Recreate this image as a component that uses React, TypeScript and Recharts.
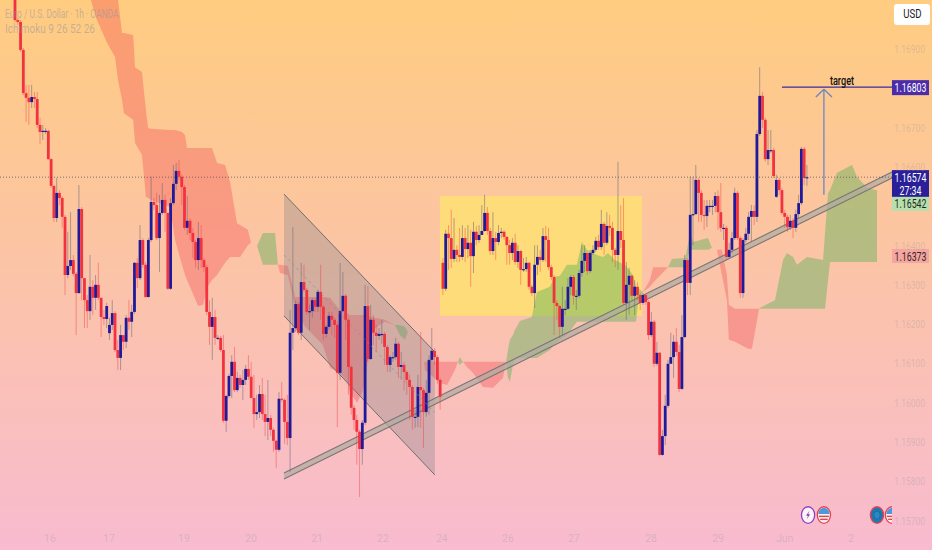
import {
  Area,
  Bar,
  ComposedChart,
  ReferenceArea,
  ReferenceDot,
  ReferenceLine,
  XAxis,
  YAxis,
} from 'recharts'

// all prices are kept as pipettes above 1.00000, so 16803 reads 1.16803
const closes = [
  16974, 16969, 16898, 16788, 16776, 16765, 16778, 16773, 16707, 16689, 16692, 16692, 16620, 16552, 16470, 16534, 16521, 16473, 16325, 16348,
  16363, 16328, 16279, 16493, 16317, 16261, 16233, 16295, 16267, 16300, 16267, 16218, 16213, 16246, 16198, 16228, 16134, 16114, 16172, 16155,
  16216, 16206, 16231, 16356, 16317, 16414, 16351, 16269, 16414, 16511, 16503, 16419, 16483, 16516, 16483, 16290, 16508, 16557, 16590, 16575,
  16549, 16445, 16463, 16432, 16409, 16363, 16419, 16363, 16345, 16231, 16193, 16218, 16165, 16165, 16134, 15954, 16017, 16068, 16104, 16032,
  16063, 16045, 16058, 16086, 16066, 16012, 15971, 15976, 16022, 15971, 15951, 15961, 15931, 15903, 15880, 16010, 16007, 15951, 15910, 16178,
  16190, 16251, 16178, 16307, 16287, 16231, 16233, 16261, 16244, 16282, 16244, 16175, 16193, 16221, 16211, 16198, 16076, 16233, 16272, 16211,
  16091, 15987, 15956, 15926, 15882, 15949, 16246, 16111, 16211, 16178, 16170, 16175, 16175, 16142, 16096, 16116, 16116, 16150, 16091, 16096,
  16078, 16058, 16040, 15964, 15964, 16040, 16032, 15976, 16025, 16109, 16132, 16116, 16058, 16015, 16290, 16430, 16419, 16366, 16389, 16376,
  16371, 16419, 16391, 16407, 16373, 16435, 16414, 16427, 16437, 16483, 16437, 16386, 16419, 16409, 16432, 16435, 16422, 16401, 16381, 16407,
  16358, 16386, 16338, 16340, 16356, 16295, 16279, 16351, 16371, 16363, 16424, 16414, 16345, 16320, 16254, 16246, 16193, 16239, 16239, 16295,
  16320, 16272, 16272, 16330, 16361, 16381, 16335, 16381, 16389, 16412, 16396, 16455, 16407, 16450, 16445, 16389, 16376, 16437, 16414, 16254,
  16300, 16323, 16272, 16295, 16274, 16254, 16274, 16256, 16172, 16206, 16099, 16127, 15867, 15915, 15992, 16099, 16116, 16155, 16129, 16035,
  16167, 16363, 16305, 16478, 16480, 16567, 16534, 16478, 16475, 16501, 16501, 16501, 16526, 16485, 16445, 16445, 16371, 16389, 16419, 16534,
  16419, 16279, 16414, 16430, 16473, 16488, 16473, 16684, 16781, 16720, 16620, 16643, 16643, 16577, 16567, 16541, 16483, 16473, 16447, 16463,
  16445, 16480, 16508, 16646, 16572, 16574,
]
const highs = [
  17025, 16979, 16974, 16903, 16809, 16809, 16809, 16791, 16791, 16725, 16707, 16699, 16694, 16623, 16552, 16572, 16541, 16526, 16478, 16435,
  16485, 16376, 16333, 16554, 16498, 16317, 16274, 16376, 16312, 16325, 16356, 16267, 16236, 16254, 16216, 16261, 16233, 16160, 16198, 16172,
  16223, 16261, 16249, 16358, 16368, 16452, 16419, 16358, 16419, 16575, 16521, 16534, 16529, 16559, 16529, 16483, 16521, 16605, 16610, 16618,
  16580, 16554, 16526, 16470, 16445, 16414, 16460, 16452, 16368, 16351, 16261, 16267, 16236, 16172, 16170, 16172, 16020, 16073, 16121, 16142,
  16078, 16071, 16083, 16096, 16121, 16104, 16071, 16020, 16045, 16063, 16020, 16058, 15969, 15936, 15905, 16027, 16053, 16012, 16020, 16236,
  16447, 16261, 16256, 16356, 16351, 16292, 16249, 16267, 16267, 16287, 16351, 16249, 16198, 16231, 16231, 16216, 16206, 16356, 16333, 16277,
  16216, 16096, 15994, 15969, 15931, 15956, 16300, 16297, 16249, 16223, 16198, 16190, 16211, 16180, 16147, 16121, 16129, 16165, 16155, 16129,
  16104, 16083, 16071, 16045, 15982, 16071, 16180, 16038, 16058, 16121, 16190, 16139, 16121, 16063, 16368, 16440, 16452, 16491, 16470, 16401,
  16445, 16452, 16445, 16452, 16440, 16460, 16450, 16452, 16503, 16529, 16498, 16445, 16485, 16435, 16452, 16445, 16440, 16424, 16414, 16419,
  16430, 16401, 16389, 16368, 16371, 16358, 16300, 16401, 16401, 16389, 16445, 16450, 16445, 16351, 16325, 16261, 16249, 16295, 16261, 16317,
  16325, 16325, 16287, 16338, 16401, 16401, 16381, 16389, 16401, 16422, 16427, 16491, 16460, 16485, 16478, 16460, 16394, 16613, 16503, 16521,
  16358, 16343, 16325, 16312, 16307, 16279, 16279, 16277, 16261, 16231, 16211, 16155, 16129, 15931, 16020, 16109, 16178, 16172, 16190, 16147,
  16223, 16376, 16368, 16575, 16575, 16605, 16572, 16541, 16516, 16516, 16516, 16516, 16536, 16541, 16559, 16455, 16450, 16407, 16435, 16547,
  16539, 16424, 16419, 16445, 16485, 16503, 16503, 16694, 16854, 16791, 16725, 16694, 16694, 16648, 16580, 16572, 16547, 16491, 16478, 16478,
  16470, 16491, 16529, 16651, 16651, 16605,
]
const lows = [
  16969, 16961, 16893, 16783, 16715, 16707, 16750, 16750, 16699, 16659, 16669, 16684, 16618, 16547, 16460, 16460, 16503, 16445, 16274, 16317,
  16338, 16323, 16172, 16277, 16261, 16190, 16190, 16211, 16223, 16236, 16261, 16167, 16198, 16190, 16160, 16185, 16129, 16083, 16083, 16134,
  16139, 16185, 16167, 16226, 16292, 16312, 16343, 16267, 16267, 16409, 16491, 16414, 16333, 16478, 16435, 16287, 16287, 16503, 16541, 16567,
  16503, 16440, 16427, 16414, 16368, 16343, 16338, 16343, 16333, 16223, 16147, 16109, 16147, 16160, 16129, 15949, 15926, 16012, 16012, 16027,
  16027, 16038, 16007, 16045, 16058, 16012, 15936, 15956, 15961, 15956, 15915, 15905, 15915, 15875, 15834, 15875, 16002, 15895, 15892, 15824,
  16134, 16180, 16172, 16160, 16282, 16223, 16185, 16216, 16231, 16231, 16211, 16160, 16165, 16185, 16172, 16165, 15938, 16058, 16231, 16160,
  16020, 15969, 15931, 15842, 15760, 15842, 15943, 16104, 16109, 16147, 16129, 16160, 16150, 16096, 16078, 16078, 16104, 16109, 16063, 16058,
  16032, 16020, 15956, 15931, 15936, 15938, 15936, 15885, 15964, 15969, 16104, 16096, 16048, 15982, 16274, 16284, 16338, 16343, 16358, 16358,
  16358, 16363, 16358, 16368, 16295, 16330, 16401, 16407, 16427, 16435, 16427, 16376, 16376, 16363, 16401, 16419, 16414, 16351, 16351, 16363,
  16351, 16343, 16300, 16333, 16333, 16287, 16272, 16241, 16325, 16333, 16358, 16358, 16338, 16312, 16172, 16211, 16165, 16172, 16223, 16236,
  16274, 16249, 16236, 16267, 16320, 16333, 16325, 16330, 16376, 16384, 16389, 16389, 16376, 16401, 16424, 16358, 16345, 16338, 16394, 16249,
  16211, 16223, 16261, 16223, 16261, 16236, 16249, 16249, 16160, 16167, 16091, 16094, 15865, 15865, 15892, 15987, 16104, 16063, 16119, 16027,
  16032, 16165, 16274, 16274, 16401, 16478, 16460, 16460, 16440, 16447, 16485, 16478, 16485, 16440, 16435, 16414, 16363, 16368, 16381, 16414,
  16414, 16267, 16267, 16407, 16414, 16409, 16452, 16460, 16679, 16699, 16613, 16605, 16636, 16572, 16521, 16529, 16478, 16445, 16435, 16440,
  16419, 16435, 16470, 16503, 16554, 16552,
]
// bars that do not open on the previous close
const gapOpens: Record<number, number> = { 0: 17025, 34: 16177, 154: 16356, 274: 16524 }

// ichimoku cloud, null breaks the band between two twists
const redCloudAt = [
  27.3, 29.5, 33.1, 36, 37.1, 38.5, 39.2, 42.5, 43.2, 45.7, 47.1, 47.9, 48.9, 55.8, 57.6, 60.1, 61.2, 61.9, 65.9, 67.7, 69.1, 70.9, 72.7, 75.6, 77.4, 79.9, 81, 83.8, 84.9, 85,
  94.6, 95.4, 98.2, 100.8, 104.4, 110.8, 113.4, 116.9, 119.5, 120.5, 123.1, 124.9, 125.9, 128.5, 133.1, 136.7, 137,
  147.2, 147.5, 152.9, 155.5, 158.3, 159.4, 160,
  161.2, 162.6, 164.8, 168.4, 172, 175.6, 176.7, 177,
  226, 228.5, 229.6, 235, 236,
  252.6, 254.4, 256.2, 256.9, 259.1, 263.8, 265.2, 267.7,
]
const redCloudTop = [
  17025, 17025, 17025, 17025, 17025, 16941, 16941, 16936, 16854, 16842, 16745, 16699, 16697, 16694, 16694, 16689, 16681, 16648, 16648, 16648, 16648, 16648, 16610, 16605, 16562, 16457, 16452, 16440, 16407, null,
  16351, 16351, 16348, 16269, 16269, 16269, 16267, 16236, 16228, 16223, 16223, 16223, 16223, 16218, 16211, 16198, null,
  16104, 16104, 16104, 16104, 16104, 16104, null,
  16104, 16104, 16104, 16104, 16104, 16104, 16104, null,
  16282, 16312, 16345, 16345, null,
  16389, 16389, 16325, 16249, 16239, 16239, 16239, 16239,
]
const redCloudBottom = [
  17025, 16974, 16916, 16880, 16821, 16771, 16737, 16720, 16661, 16631, 16524, 16521, 16516, 16498, 16414, 16351, 16325, 16312, 16246, 16249, 16292, 16312, 16325, 16356, 16371, 16371, 16371, 16401, 16407, null,
  16351, 16330, 16325, 16244, 16193, 16147, 16088, 16076, 16053, 16027, 16000, 16025, 16050, 16185, 16206, 16198, null,
  16104, 16083, 16050, 16045, 16083, 16104, null,
  16104, 16091, 16076, 16040, 16038, 16063, 16104, null,
  16282, 16295, 16305, 16345, null,
  16389, 16325, 16261, 16160, 16155, 16137, 16137, 16236,
]
const greenCloudAt = [
  87.1, 89.2, 93.6, 94.6, 95,
  136.7, 138.5, 140.3, 141.4, 142,
  159.4, 160.1, 161.2, 161.5,
  176.7, 177.4, 178.1, 179.2, 179.9, 181.7, 186, 187.8, 192.5, 194, 196.1, 198.6, 202.2, 204, 205.8, 209.4, 211.6, 213.4, 215.9, 219.5, 222.4, 223.5, 224.2, 226, 227,
  235, 236.4, 241.1, 241.8, 242.9, 244, 249.4, 250.8, 252.6, 253,
  267.7, 268, 273.5, 276.4, 277.8, 280, 281.4, 285, 290.8, 291.5, 292.6, 293.3, 295.8, 301.2, 303, 306.6, 310.2,
]
const greenCloudTop = [
  16399, 16432, 16432, 16351, null,
  16198, 16198, 16193, 16180, null,
  16104, 16116, 16104, null,
  16104, 16134, 16160, 16172, 16185, 16208, 16218, 16282, 16295, 16320, 16323, 16351, 16351, 16409, 16389, 16376, 16371, 16381, 16363, 16351, 16325, 16295, 16292, 16282, null,
  16345, 16366, 16368, 16389, 16432, 16409, 16419, 16394, 16389, null,
  16239, 16241, 16261, 16363, 16381, 16371, 16351, 16371, 16363, 16432, 16534, 16541, 16585, 16605, 16575, 16547, 16541,
]
const greenCloudBottom = [
  16399, 16351, 16351, 16351, null,
  16198, 16172, 16160, 16180, null,
  16104, 16096, 16104, null,
  16104, 16063, 16053, 16096, 16109, 16114, 16114, 16114, 16134, 16147, 16160, 16172, 16206, 16206, 16206, 16206, 16206, 16206, 16206, 16206, 16206, 16206, 16249, 16282, null,
  16345, 16345, 16345, 16363, 16389, 16389, 16389, 16394, 16389, null,
  16239, 16239, 16239, 16239, 16239, 16239, 16239, 16239, 16239, 16239, 16312, 16358, 16358, 16358, 16358, 16358, 16358,
]

// drawn tools, each one an anchored pair of bars
const wedgeAt = [96.8, 151.1]
const wedgeTop = [16531, 16129]
const wedgeBottom = [16221, 15816]
const wedgeMid = [16376, 15974]
const trendAt = [96.8, 315.6]
const trendTop = [15821, 16587]
const trendBottom = [15806, 16572]
const boxAt = [152.9, 225.6]
const boxPrices = [16526, 16221]
const targetAt = [276, 315.6]
const targetPrice = 16803
const arrowAt = [288.2, 291.1, 294]
const arrowPrices = [16778, 16798, 16529]
const lastPrice = 16574

const priceTicks = [15700, 15800, 15900, 16000, 16100, 16200, 16300, 16400, 16600, 16700, 16900]
const timeTickAt = [12.6, 33.8, 60.8, 84.9, 108.7, 132.4, 153.6, 177.4, 201.1, 228.9, 253, 277, 300.8]
const timeLabels = ['16', '17', '19', '20', '21', '22', '24', '26', '27', '28', '29', 'Jun', '2']

const price = (pt: number) => 1 + pt / 100000

const candles = closes.map((close, i) => ({
  i,
  open: price(gapOpens[i] ?? closes[i - 1]),
  close: price(close),
  high: price(highs[i]),
  low: price(lows[i]),
  range: [price(lows[i]), price(highs[i])],
}))

const bandRows = (at: number[], top: (number | null)[], bottom: (number | null)[]) =>
  at.map((i, k) => ({
    i,
    band: top[k] === null || bottom[k] === null ? null : [price(bottom[k] as number), price(top[k] as number)],
  }))

const redRows = bandRows(redCloudAt, redCloudTop, redCloudBottom)
const greenRows = bandRows(greenCloudAt, greenCloudTop, greenCloudBottom)
const wedgeRows = bandRows(wedgeAt, wedgeTop, wedgeBottom)
const trendRows = bandRows(trendAt, trendTop, trendBottom)

const FONT = 'Roboto, sans-serif'
const TICK = 'rgba(150,150,160,0.32)'
const UP = '#1f1a9b'
const DOWN = '#f2323f'

function Candle(props: any) {
  const { x, y, width, height, payload } = props
  if (!payload) return null
  const top = Math.min(y, y + height)
  const h = Math.abs(height)
  const perPrice = h / (payload.high - payload.low || 1)
  const bodyTop = top + (payload.high - Math.max(payload.open, payload.close)) * perPrice
  const bodyH = Math.max(Math.abs(payload.open - payload.close) * perPrice, 1.2)
  const up = payload.close >= payload.open
  const mid = x + width / 2
  return (
    <g>
      <line x1={mid} x2={mid} y1={top} y2={top + h} stroke={up ? 'rgba(105,105,125,0.55)' : 'rgba(242,50,63,0.42)'} strokeWidth={1} />
      <rect x={mid - 1.4} y={bodyTop} width={2.8} height={bodyH} fill={up ? UP : DOWN} />
    </g>
  )
}

// the source uses a narrow face, squeeze Roboto sideways to get the same width
function Narrow(props: any) {
  const { x, y, squeeze, anchor, size, fill, weight, children } = props
  return (
    <text transform={`translate(${x} ${y}) scale(${squeeze} 1)`} textAnchor={anchor} fontFamily={FONT} fontSize={size} fontWeight={weight} fill={fill}>
      {children}
    </text>
  )
}

function PriceTick(props: any) {
  return (
    <Narrow x={925} y={props.y + 4} squeeze={0.77} anchor="end" size={11} fill={TICK}>
      {props.payload.value.toFixed(5)}
    </Narrow>
  )
}

const priceTag = (lines: string[], h: number, fill: string, color: string) => (p: any) => (
  <g>
    <rect x={p.cx} y={p.cy} width={37} height={h} fill={fill} />
    {lines.map((t, k) => (
      <Narrow key={t} x={p.cx + 18.5} y={p.cy + 11.5 + k * 13} squeeze={0.73} anchor="middle" size={12} fill={color}>
        {t}
      </Narrow>
    ))}
  </g>
)

const targetText = (p: any) => (
  <Narrow x={p.cx} y={p.cy} squeeze={0.76} anchor="middle" size={12} weight={500} fill="#111111">
    target
  </Narrow>
)

const boltIcon = (p: any) => (
  <g>
    <ellipse cx={p.cx} cy={p.cy} rx={6.6} ry={8.3} fill="#fdf4fa" stroke="#8e3fc0" strokeWidth={1.3} />
    <path d={`M${p.cx + 1.5} ${p.cy - 4.5}L${p.cx - 2} ${p.cy + 0.8}H${p.cx}L${p.cx - 1.5} ${p.cy + 4.5}L${p.cx + 2} ${p.cy - 0.8}H${p.cx}Z`} fill="#7b3fa8" />
  </g>
)

const flagIcon = (cut: number) => (p: any) => (
  <g clipPath={cut ? `url(#flag-${cut})` : undefined}>
    {cut ? (
      <clipPath id={`flag-${cut}`}>
        <rect x={p.cx - 8} y={p.cy - 10} width={cut} height={20} />
      </clipPath>
    ) : null}
    <ellipse cx={p.cx} cy={p.cy} rx={6.6} ry={8.3} fill="#f7f1f4" stroke="#e6434f" strokeWidth={1.3} />
    <path d={`M${p.cx - 5.5} ${p.cy - 1}C${p.cx - 5.5} ${p.cy - 9} ${p.cx + 5.5} ${p.cy - 9} ${p.cx + 5.5} ${p.cy - 1}Z`} fill="#4f97dc" />
    <rect x={p.cx - 5} y={p.cy + 0.6} width={10} height={1.4} fill="#e6434f" />
    <rect x={p.cx - 3.8} y={p.cy + 3.6} width={7.6} height={1.4} fill="#e6434f" />
  </g>
)

const globeIcon = (p: any) => (
  <g>
    <ellipse cx={p.cx} cy={p.cy} rx={6.6} ry={8.3} fill="#1f78b4" stroke="#e6434f" strokeWidth={1.3} />
    <ellipse cx={p.cx} cy={p.cy} rx={3.2} ry={4} fill="#2a8ac0" stroke="#1a5f90" strokeWidth={0.6} />
  </g>
)

const headerStyle = (top: number, squeeze: number) => ({
  position: 'absolute' as const,
  left: 5,
  top,
  font: `12px ${FONT}`,
  color: 'rgba(150,150,160,0.55)',
  whiteSpace: 'nowrap' as const,
  transform: `scaleX(${squeeze})`,
  transformOrigin: 'left',
})

export default function App() {
  return (
    <div
      style={{
        position: 'absolute',
        left: 0,
        top: 0,
        width: 932,
        height: 550,
        overflow: 'hidden',
        background: 'linear-gradient(180deg, #ffcc80 0%, #f8bbd0 100%)',
      }}
    >
      <ComposedChart width={932} height={550} data={candles} margin={{ top: 0, right: 0, bottom: 0, left: 0 }}>
        <XAxis
          dataKey="i"
          type="number"
          domain={[-5.4, 330]}
          allowDataOverflow
          ticks={timeTickAt}
          interval={0}
          tickFormatter={(v: number) => timeLabels[timeTickAt.indexOf(v)]}
          mirror
          axisLine={false}
          tickLine={false}
          height={24}
          tick={{ fill: TICK, fontSize: 10.5, fontFamily: FONT }}
        />
        <YAxis
          orientation="right"
          type="number"
          domain={[price(15625), price(17025)]}
          allowDataOverflow
          ticks={priceTicks.map(price)}
          interval={0}
          mirror
          axisLine={false}
          tickLine={false}
          width={40}
          tick={PriceTick}
        />

        <ReferenceArea
          x1={boxAt[0]}
          x2={boxAt[1]}
          y1={price(boxPrices[0])}
          y2={price(boxPrices[1])}
          fill="#ffdc7a"
          fillOpacity={1}
          stroke="none"
        />

        <Area data={redRows} dataKey="band" type="linear" fill="rgb(242,54,69)" fillOpacity={0.3} stroke="none" isAnimationActive={false} dot={false} activeDot={false} />
        <Area data={greenRows} dataKey="band" type="linear" fill="rgb(76,175,80)" fillOpacity={0.4} stroke="none" isAnimationActive={false} dot={false} activeDot={false} />
        <Area data={wedgeRows} dataKey="band" type="linear" fill="rgb(120,123,134)" fillOpacity={0.3} stroke="#6f6f6f" strokeWidth={1} isAnimationActive={false} dot={false} activeDot={false} />
        <Area data={trendRows} dataKey="band" type="linear" fill="rgb(178,170,160)" fillOpacity={0.7} stroke="#777777" strokeWidth={1.1} isAnimationActive={false} dot={false} activeDot={false} />

        <ReferenceLine
          segment={[
            { x: wedgeAt[0], y: price(wedgeMid[0]) },
            { x: wedgeAt[1], y: price(wedgeMid[1]) },
          ]}
          stroke="#8a8a8a"
          strokeDasharray="3 3"
          strokeOpacity={0.6}
        />
        <ReferenceLine
          segment={[
            { x: -5.4, y: price(lastPrice) },
            { x: trendAt[1], y: price(lastPrice) },
          ]}
          stroke="#3c3c5a"
          strokeOpacity={0.65}
          strokeDasharray="1 2"
        />

        <Bar dataKey="range" barSize={3} shape={Candle} isAnimationActive={false} />

        <ReferenceLine
          segment={[
            { x: targetAt[0], y: price(targetPrice) },
            { x: targetAt[1], y: price(targetPrice) },
          ]}
          stroke="#3d2a9e"
          strokeWidth={1.3}
        />
        <ReferenceLine
          segment={[
            { x: arrowAt[1], y: price(arrowPrices[1]) },
            { x: arrowAt[1], y: price(arrowPrices[2]) },
          ]}
          stroke="#6b86c4"
          strokeWidth={1.3}
        />
        <ReferenceLine
          segment={[
            { x: arrowAt[0], y: price(arrowPrices[0]) },
            { x: arrowAt[1], y: price(arrowPrices[1]) },
          ]}
          stroke="#6b86c4"
          strokeWidth={1.3}
        />
        <ReferenceLine
          segment={[
            { x: arrowAt[2], y: price(arrowPrices[0]) },
            { x: arrowAt[1], y: price(arrowPrices[1]) },
          ]}
          stroke="#6b86c4"
          strokeWidth={1.3}
        />
        <ReferenceDot x={297.6} y={price(16809)} shape={targetText} />

        <ReferenceDot x={315.6} y={price(16821)} shape={priceTag(['1.16803'], 15, '#4b2ca9', '#ffffff')} />
        <ReferenceDot x={315.6} y={price(16592)} shape={priceTag(['1.16574', '27:34'], 27, '#2a1f98', '#ffffff')} />
        <ReferenceDot x={315.6} y={price(16524)} shape={priceTag(['1.16542'], 14, '#b5e0ad', '#1f2a20')} />
        <ReferenceDot x={315.6} y={price(16391)} shape={priceTag(['1.16373'], 14, '#f4a6a0', '#3a2528')} />

        <ReferenceDot x={285.4} y={price(15714)} shape={boltIcon} />
        <ReferenceDot x={291.1} y={price(15714)} shape={flagIcon(0)} />
        <ReferenceDot x={310.2} y={price(15714)} shape={globeIcon} />
        <ReferenceDot x={315.6} y={price(15714)} shape={flagIcon(8)} />
      </ComposedChart>

      <div style={headerStyle(7, 0.7)}>Euro / U.S. Dollar · 1h · OANDA</div>
      <div style={headerStyle(22, 0.83)}>Ichimoku 9 26 52 26</div>
      <div
        style={{
          position: 'absolute',
          left: 894,
          top: 4,
          width: 36,
          height: 21,
          background: '#fff',
          borderRadius: 3,
          textAlign: 'center',
          font: `12px/21px ${FONT}`,
          color: '#222',
        }}
      >
        <span style={{ display: 'inline-block', transform: 'scaleX(0.8)' }}>USD</span>
      </div>
    </div>
  )
}
